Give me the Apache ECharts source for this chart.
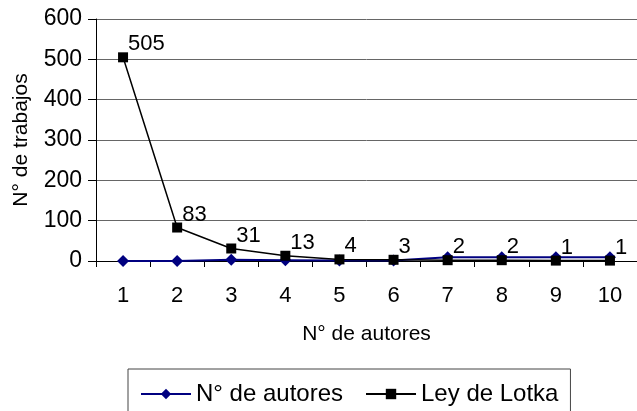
<!DOCTYPE html>
<html>
<head>
<meta charset="utf-8">
<script src="https://cdn.jsdelivr.net/npm/echarts@6/dist/echarts.min.js"></script>
<style>html,body{margin:0;padding:0;background:#fff}#c{width:637px;height:411px}</style>
</head>
<body>
<div id="c"></div>
<script>
var categories = ['1','2','3','4','5','6','7','8','9','10'];
var autores = [0, 0, 3, 2, 1, 1, 9, 9, 9, 9];
var lotka = [505, 83, 31, 13, 4, 3, 2, 2, 1, 1];
var yTicks = [0, 100, 200, 300, 400, 500, 600];

var FONT = '"Liberation Sans", Arial, sans-serif';
var chart = echarts.init(document.getElementById('c'));
chart.setOption({
  animation: false,
  backgroundColor: '#fff',
  textStyle: { fontFamily: FONT },
  grid: { left: 96, top: 19, width: 544, height: 242, containLabel: false },
  legend: {
    left: 128, top: 369,
    padding: [13, 12, 30, 12],
    borderColor: '#444', borderWidth: 1,
    itemWidth: 50, itemHeight: 13, itemGap: 22,
    textStyle: { fontFamily: FONT, fontSize: 24, color: '#000' },
    data: ['N° de autores', 'Ley de Lotka']
  },
  xAxis: {
    type: 'category',
    data: categories,
    boundaryGap: true,
    name: 'N° de autores',
    nameLocation: 'middle',
    nameGap: 63,
    nameTextStyle: { fontFamily: FONT, fontSize: 21, color: '#000' },
    axisLine: { lineStyle: { color: '#000', width: 1 } },
    axisTick: { show: true, length: 6, inside: false, lineStyle: { color: '#000' } },
    axisLabel: { margin: 24, fontFamily: FONT, fontSize: 22, color: '#000' },
    splitLine: { show: false }
  },
  yAxis: {
    type: 'value',
    min: yTicks[0], max: yTicks[yTicks.length - 1], interval: 100,
    name: 'N° de trabajos',
    nameLocation: 'middle',
    nameGap: 64,
    nameTextStyle: { fontFamily: FONT, fontSize: 21, color: '#000' },
    axisLine: { show: true, lineStyle: { color: '#000', width: 1 } },
    axisTick: { show: true, length: 8, inside: false, lineStyle: { color: '#000' } },
    axisLabel: { margin: 14, fontFamily: FONT, fontSize: 23, color: '#000' },
    splitLine: { show: true, lineStyle: { color: '#666', width: 1 } }
  },
  series: [
    {
      name: 'N° de autores',
      type: 'line',
      data: autores,
      symbol: 'diamond',
      symbolSize: 12,
      itemStyle: { color: '#000080' },
      lineStyle: { color: '#000080', width: 2 },
      z: 2
    },
    {
      name: 'Ley de Lotka',
      type: 'line',
      data: lotka,
      symbol: 'rect',
      symbolSize: 10,
      itemStyle: { color: '#000' },
      lineStyle: { color: '#000', width: 1.5 },
      label: {
        show: true,
        position: [10, -8],
        align: 'left',
        verticalAlign: 'middle',
        fontFamily: FONT,
        fontSize: 22,
        color: '#000'
      },
      z: 3
    }
  ]
});
</script>
</body>
</html>
